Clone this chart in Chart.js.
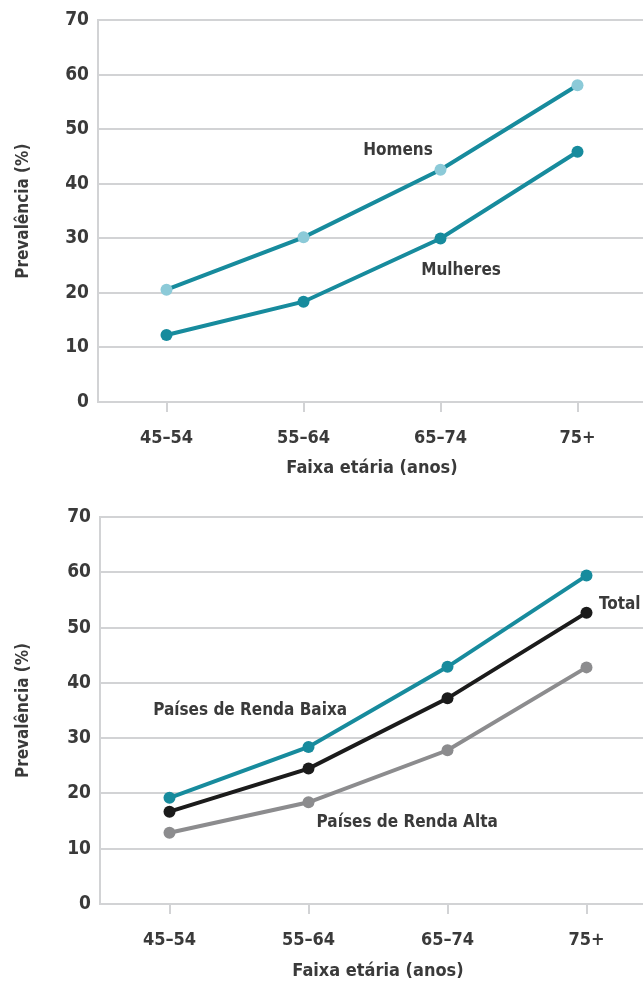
<!DOCTYPE html>
<html>
<head>
<meta charset="utf-8">
<script src="https://cdn.jsdelivr.net/npm/chart.js@4.4.1/dist/chart.umd.min.js"></script>
<style>
  html, body { margin: 0; padding: 0; background: #fff; overflow: hidden; width: 643px; height: 985px; }
  #c1 { position: absolute; left: 0; top: 0; }
  #c2 { position: absolute; left: 0; top: 490px; }
</style>
</head>
<body>
<canvas id="c1" width="646" height="490"></canvas>
<canvas id="c2" width="656" height="495"></canvas>
<script>
// ---- data ----
const ageGroups = ['45–54', '55–64', '65–74', '75+'];
const homens = [20.6, 30.2, 42.6, 58.1];
const mulheres = [12.3, 18.4, 30.0, 45.9];
const rendaBaixa = [19.2, 28.4, 42.9, 59.4];
const total = [16.7, 24.5, 37.2, 52.7];
const rendaAlta = [12.9, 18.4, 27.8, 42.8];
const yTicks = [0, 10, 20, 30, 40, 50, 60, 70];

const FONT = '"Liberation Sans Narrow", "DejaVu Sans Condensed", sans-serif';
const TEXT = '#3a3a3a';
const TEAL = '#178b9d';
const LIGHT = '#8ccad8';
const GRID = '#d2d3d5';

const labelPlugin = {
  id: 'seriesLabels',
  afterDatasetsDraw(chart, args, opts) {
    const { ctx, scales } = chart;
    ctx.save();
    ctx.font = 'bold 17px ' + FONT;
    ctx.fillStyle = TEXT;
    ctx.textBaseline = 'middle';
    (opts.items || []).forEach(it => {
      ctx.textAlign = it.align || 'center';
      ctx.fillText(it.text, scales.x.getPixelForValue(it.x), scales.y.getPixelForValue(it.y));
    });
    ctx.restore();
  }
};

function makeChart(id, datasets, items, yWidth, xHeight, padTop, titleBottomPad) {
  return new Chart(document.getElementById(id), {
    type: 'line',
    data: { labels: ageGroups, datasets },
    plugins: [labelPlugin],
    options: {
      responsive: false,
      animation: false,
      layout: { autoPadding: false, padding: { top: padTop, left: 0, right: 0, bottom: 0 } },
      plugins: { legend: { display: false }, tooltip: { enabled: false }, seriesLabels: { items } },
      elements: { line: { tension: 0, borderWidth: 4 }, point: { radius: 6, borderWidth: 0 } },
      scales: {
        x: {
          offset: true,
          grid: { drawOnChartArea: false, drawTicks: true, tickLength: 10, color: GRID, lineWidth: 2 },
          border: { color: GRID, width: 2 },
          ticks: { color: TEXT, font: { family: FONT, size: 18, weight: 'bold' }, padding: 16, maxRotation: 0 },
          title: { display: true, text: 'Faixa etária (anos)', color: TEXT, font: { family: FONT, size: 18, weight: 'bold' }, padding: { top: 0, bottom: titleBottomPad } },
          afterFit(s) { s.height = xHeight; s.paddingLeft = 0; s.paddingRight = 0; }
        },
        y: {
          min: 0, max: 70,
          afterBuildTicks(s) { s.ticks = yTicks.map(v => ({ value: v })); },
          grid: { drawTicks: false, color: GRID, lineWidth: 2 },
          border: { color: GRID, width: 2 },
          ticks: { color: TEXT, font: { family: FONT, size: 19, weight: 'bold' }, padding: 9 },
          title: { display: true, text: 'Prevalência (%)', color: TEXT, font: { family: FONT, size: 17, weight: 'bold' }, padding: { top: 13, bottom: 0 } },
          afterFit(s) { s.width = yWidth; }
        }
      }
    }
  });
}

makeChart('c1', [
  { data: homens, borderColor: TEAL, backgroundColor: LIGHT, pointBackgroundColor: LIGHT },
  { data: mulheres, borderColor: TEAL, backgroundColor: TEAL, pointBackgroundColor: TEAL }
], [
  { text: 'Homens', x: 1.69, y: 46.1 },
  { text: 'Mulheres', x: 2.15, y: 24.1 }
], 98, 88, 19, 11);

makeChart('c2', [
  { data: rendaAlta, borderColor: '#8c8c8e', pointBackgroundColor: '#8c8c8e' },
  { data: total, borderColor: '#1b1b1b', pointBackgroundColor: '#1b1b1b' },
  { data: rendaBaixa, borderColor: TEAL, pointBackgroundColor: TEAL }
], [
  { text: 'Países de Renda Baixa', x: 0.58, y: 34.9 },
  { text: 'Total', x: 3.09, y: 54.1, align: 'left' },
  { text: 'Países de Renda Alta', x: 1.71, y: 14.8 }
], 100, 81, 27, 3);
</script>
</body>
</html>
